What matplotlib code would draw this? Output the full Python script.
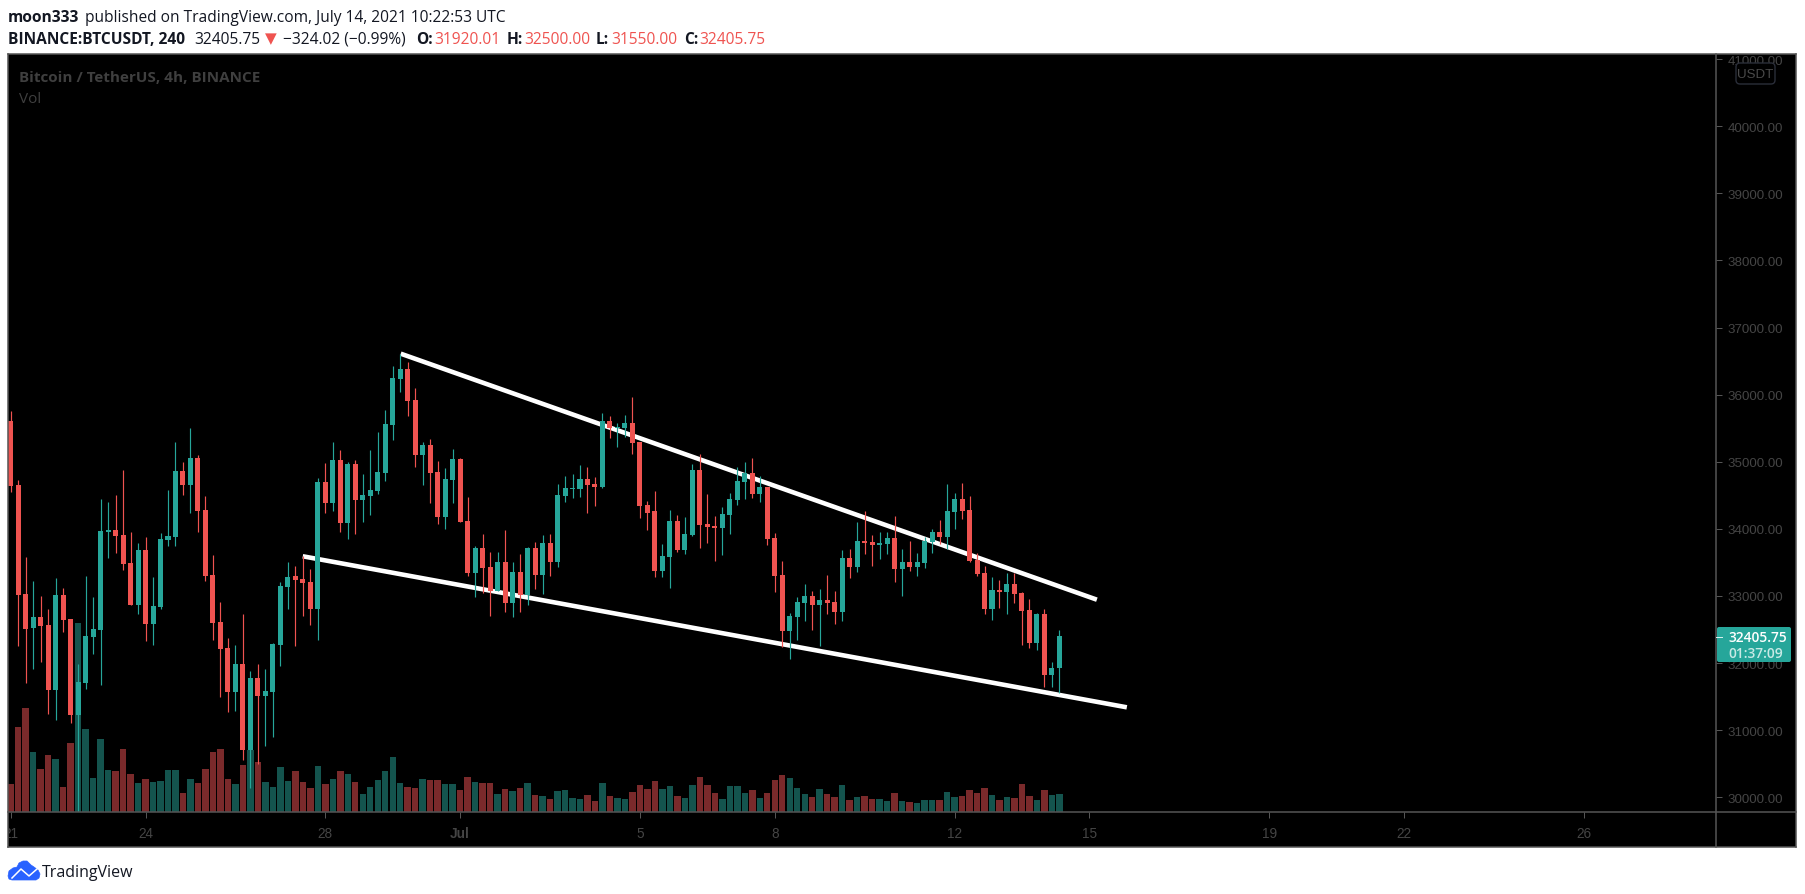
import matplotlib
matplotlib.use("Agg")
import matplotlib.pyplot as plt
from matplotlib.patches import Rectangle, FancyBboxPatch, Circle, Polygon
from matplotlib.lines import Line2D
from matplotlib.transforms import Affine2D, Bbox

opens = [35608,34654,33030,32528,32687,32567,31604,33015,32657,31231,31708,32394,32498,33958,33983,33909,33492,32870,33685,32587,
 32841,33834,33884,34863,34659,35056,34281,33313,32612,32225,31574,31986,30709,31778,31509,31574,32274,33139,33298,33253,
 33208,32811,34699,34391,35027,34093,34967,34435,34490,34570,34838,35553,36234,36383,35921,35106,35250,34848,34182,34734,
 35042,34118,33347,33715,33432,33079,33506,32900,33357,33020,33715,33318,33790,33511,34495,34599,34599,34743,34669,34629,
 35608,35509,35504,35578,35295,34356,34267,33377,33586,34118,33690,33914,34878,34073,34043,34013,34212,34435,34704,34833,
 34525,34624,33864,33313,32483,32692,32901,33000,32871,32940,32911,32767,33566,33437,33820,33805,33765,33775,33865,33407,
 33507,33437,33497,33810,33954,33884,34257,34446,34282,33537,33343,32811,33090,33065,33179,33045,32791,32305,32732,31828,31920.01]
highs = [35757,34729,33576,33218,33000,32806,33268,33114,32660,31981,33293,32980,34440,34396,34500,34873,33954,33785,33874,33283,
 33934,34575,35290,34992,35499,35096,34485,33606,32905,32369,32264,32726,31877,31981,31907,32299,33203,33501,33442,33601,
 33397,34753,34977,35290,35171,34992,35022,34813,35171,35439,35767,36423,36606,36487,36095,35295,35335,35007,34902,35186,
 35056,34470,33740,33919,33650,33650,33978,33501,33626,33725,33800,33904,33919,34664,34783,34813,34947,34917,34768,35722,
 35677,35573,35692,35961,35300,34411,34560,33770,34276,34202,34172,34962,35111,34515,34187,34321,34535,34917,34992,35051,
 34783,34630,33934,33521,32746,32980,33179,33070,33104,33313,33070,33681,33696,34098,34262,33904,33949,33949,34187,33696,
 33815,33636,33874,33994,34128,34664,34530,34679,34485,33636,33442,33278,33234,33343,33338,33055,32950,32747,32801,32011,32500.00]
lows = [34555,32259,31708,31917,32021,31246,31157,32468,31112,29780,31619,32140,31678,33571,33646,33392,32865,32736,32334,32274,
 32811,33750,33750,34510,34242,33958,33228,32349,31499,31276,31281,30560,30143,30501,30769,30903,31961,32811,32259,32707,
 32572,32349,34242,34271,33958,33854,33929,34108,34212,34525,34719,35330,36040,35687,34927,34659,34391,34078,34003,34391,
 34100,33303,32990,33049,32707,33075,32766,32692,32766,32870,33109,33034,33303,33437,34406,34465,34480,34242,34346,34614,
 35359,35225,35374,35121,34167,33988,33288,33288,33124,33660,33631,33899,33720,33795,33526,33616,33929,34361,34450,34465,
 34406,33765,33064,32235,32066,32349,32632,32498,32260,32737,32588,32632,33273,33363,33631,33452,33556,33631,33214,33005,
 33378,33303,33422,33646,33780,33706,34004,34153,33512,33303,32737,32647,32826,32737,32901,32275,32230,32200,31649,31649,31550.00]
closes = [34644,33020,32513,32687,32558,31604,33015,32647,31231,31718,32404,32508,33968,33983,33899,33482,32870,33685,32587,32851,
 33849,33894,34863,34659,35056,34271,33303,32602,32215,31574,31986,30709,31778,31514,31584,32284,33149,33283,33238,33193,
 32811,34699,34391,35027,34093,34967,34435,34505,34580,34848,35563,36249,36383,35911,35106,35250,34838,34182,34743,35042,
 34108,33347,33715,33422,33079,33506,32900,33357,33020,33715,33318,33790,33511,34505,34609,34609,34743,34659,34629,35608,
 35509,35518,35578,35285,34346,34242,33377,33596,34118,33690,33924,34878,34063,34028,34013,34222,34445,34714,34833,34525,
 34624,33854,33303,32483,32702,32911,33000,32871,32940,32901,32767,33566,33437,33820,33795,33765,33790,33865,33407,33507,
 33437,33507,33820,33954,33884,34267,34446,34272,33527,33333,32811,33090,33065,33179,33035,32781,32305,32732,31828,31927,32405.75]
volumes = [84,255,312,180,129,171,159,75,207,567,249,102,219,126,123,189,114,87,99,90,
 93,126,126,57,99,87,129,180,189,99,84,141,187,150,90,75,135,93,123,90,
 72,138,84,99,123,114,90,54,75,96,123,165,87,75,72,99,96,96,84,84,
 66,105,90,87,87,54,69,63,72,87,51,48,39,63,66,42,39,51,33,87,
 48,42,39,60,81,69,93,69,78,48,42,81,105,81,57,39,78,78,57,66,
 42,57,96,111,102,72,54,45,69,54,45,81,36,45,48,39,39,33,57,33,
 30,27,36,36,36,60,45,48,66,57,72,51,36,45,42,84,48,36,66,51,54]
upper_line_idx = [52.07, 145.0]
upper_line_price = [36611, 32945]
lower_line_idx = [38.99, 149.0]
lower_line_price = [33592, 31341]
price_ticks = [30000,31000,32000,33000,34000,35000,36000,37000,38000,39000,40000,41000]
time_tick_idx = [0,18,42,60,84,102,126,144,168,186,210]
time_tick_labels = ["21","24","28","Jul","5","8","12","15","19","22","26"]

W, H = 1805, 895
UP, DOWN = "#26a69a", "#ef5350"
VUP, VDOWN = "#14544e", "#7a2a2b"
LINE = "#555555"
AXTXT = "#454545"
plt.rcParams["font.family"] = ["Open Sans", "DejaVu Sans"]

fig = plt.figure(figsize=(W/100, H/100), dpi=100, facecolor="white")
px = Affine2D().scale(1/W, -1/H).translate(0, 1) + fig.transFigure

fig.add_artist(Rectangle((8, 55), 1788, 793, transform=px, facecolor="black", edgecolor="none", zorder=-1))

left, right, top, bottom = 8, 1716, 55, 813
ax = fig.add_axes([left/W, (H-bottom)/H, (right-left)/W, (bottom-top)/H])
vax = ax.twinx()
ax.set_zorder(2); vax.set_zorder(1)
for a in (ax, vax):
    a.patch.set_visible(False)
    for s in a.spines.values():
        s.set_visible(False)

xs = list(range(len(closes)))
is_up = [c >= o for o, c in zip(opens, closes)]
vax.bar(xs, volumes, width=0.86, color=[VUP if u else VDOWN for u in is_up], linewidth=0)
vax.set_ylim(0, 2274)
vax.set_yticks([])

ax.plot(upper_line_idx, upper_line_price, color="white", lw=3.3, solid_capstyle="butt", zorder=1)
ax.plot(lower_line_idx, lower_line_price, color="white", lw=3.3, solid_capstyle="butt", zorder=1)
colors = [UP if u else DOWN for u in is_up]
ax.vlines(xs, lows, highs, colors=colors, lw=0.85, zorder=2)
ax.bar(xs, [max(abs(c-o), 12) for o, c in zip(opens, closes)],
       bottom=[min(o, c) for o, c in zip(opens, closes)],
       width=0.67, color=colors, linewidth=0, zorder=3)

ax.set_xlim(-0.36, 227.65)
ax.set_ylim(29781, 41077)
ax.yaxis.tick_right()
ax.set_yticks(price_ticks, [f"{p:.2f}" for p in price_ticks])
ax.tick_params(axis="y", length=4.3, width=0.72, color=LINE, labelcolor=AXTXT, labelsize=9.6, pad=4.3,
               labelfontfamily="Liberation Sans")
ax.set_xticks(time_tick_idx, time_tick_labels)
ax.tick_params(axis="x", length=4.3, width=0.72, color=LINE, labelcolor=AXTXT, labelsize=9.8, pad=6,
               labelfontfamily="Liberation Sans")
for lbl in ax.get_xticklabels():
    lbl.set_clip_on(True)
    lbl.set_clip_box(Bbox([[9, 0], [W, H]]))
    if lbl.get_text() == "Jul":
        lbl.set_fontweight("bold")

def line(x0, y0, x1, y1):
    fig.add_artist(Line2D([x0, x1], [y0, y1], transform=px, color=LINE, lw=1.1, zorder=5))
line(8, 55, 1796, 55); line(8, 848, 1796, 848); line(8, 55, 8, 848); line(1796, 55, 1796, 848)
line(8, 813, 1796, 813); line(1716, 55, 1716, 848)

def t(x, y, s, color="#131722", size=11.2, weight="normal", **kw):
    kw.setdefault("va", "center")
    fig.text(x, y, s, transform=px, color=color, fontsize=size, fontweight=weight, zorder=7, **kw)

t(8, 18, "moon333", weight="bold")
t(85, 18, "published on TradingView.com, July 14, 2021 10:22:53 UTC")
t(8, 40, "BINANCE:BTCUSDT, 240", weight="bold")
t(194, 40, "32405.75")
t(265, 39, "\u25BC", color=DOWN, size=11, family="DejaVu Sans")
t(283, 40, "\u2212324.02 (\u22120.99%)")
for x, s in [(416, "O:"), (507, "H:"), (596, "L:"), (684, "C:")]:
    t(x, 40, s, weight="bold")
for x, s in [(434, "31920.01"), (524, "32500.00"), (611, "31550.00"), (699, "32405.75")]:
    t(x, 40, s, color=DOWN)
t(19, 78, "Bitcoin / TetherUS, 4h, BINANCE", color="#3f3f3f", weight="bold", size=11)
t(19, 99.5, "Vol", color="#3f3f3f", size=11)

# currency badge
fig.add_artist(FancyBboxPatch((1738, 66), 35, 17, boxstyle="round,pad=2,rounding_size=4", transform=px,
                              facecolor="black", edgecolor="#2a2e39", lw=1, zorder=6))
t(1755.5, 75, "USDT", color="#4a4a4a", size=9.6, ha="center", family="Liberation Sans")

# last price tag
fig.add_artist(FancyBboxPatch((1717, 628), 74, 35, boxstyle="round,pad=0,rounding_size=2", transform=px,
                              facecolor=UP, edgecolor="none", zorder=6))
line_tag = Line2D([1716, 1722], [637.5, 637.5], transform=px, color="#d5efec", lw=0.72, zorder=7)
fig.add_artist(line_tag)
t(1728, 638.5, "32405.75", color="white", size=9.9, weight="semibold")
t(1728, 654.5, "01:37:09", color="#c8e9e5", size=9.9, weight="semibold")

# logo
BLUE = "#2962ff"
cloud = [(8, 877), (9, 872), (13, 869), (17, 868), (19, 864), (23, 862), (27, 862), (31, 866), (34, 868),
         (38, 871), (40, 875), (39, 879), (36, 881), (12, 881), (9, 880)]
fig.add_artist(Polygon(cloud, closed=True, transform=px, facecolor=BLUE, edgecolor=BLUE, lw=0.5, zorder=6))
fig.add_artist(Line2D([12, 21, 29, 37], [879, 870, 877, 870], transform=px, color="white", lw=1.1, zorder=7))
t(42, 873, "TradingView", color="#131722", size=11.5)

fig.savefig("out.png", dpi=100, facecolor="white")
